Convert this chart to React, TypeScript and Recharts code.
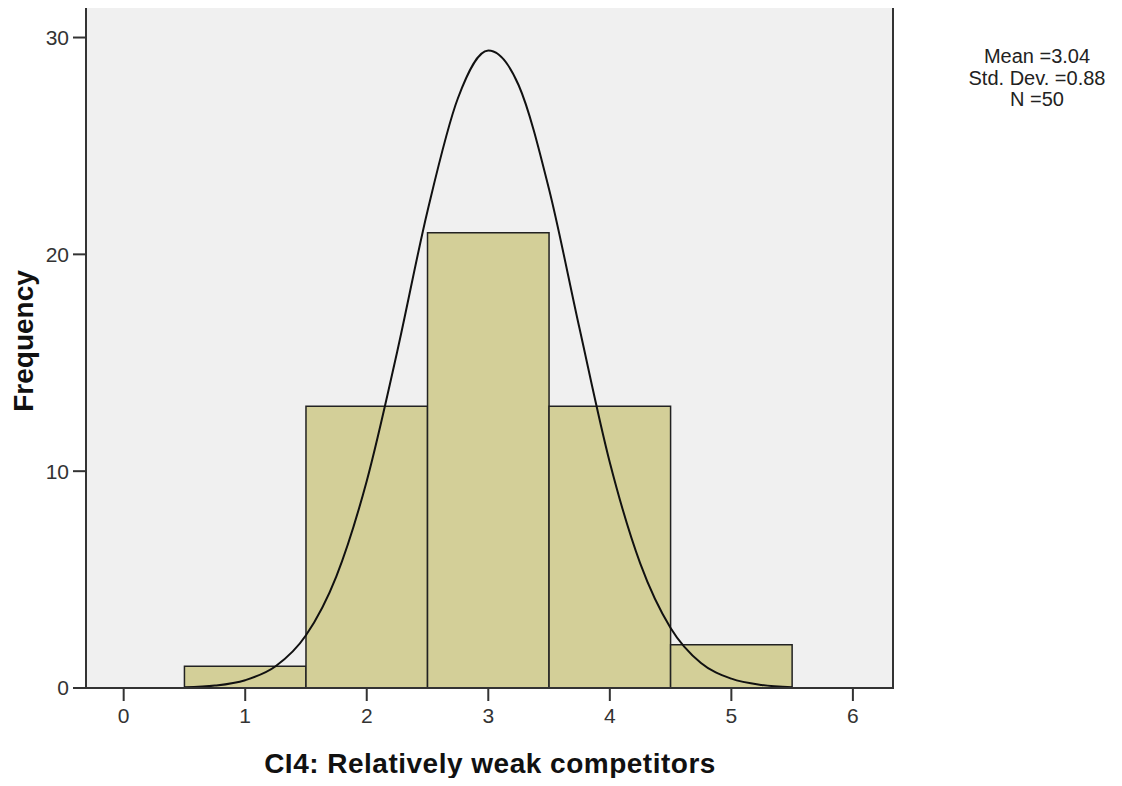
import React from "react";
import { ComposedChart, Line, XAxis, YAxis, ReferenceArea } from "recharts";

// Histogram bins
const binStart = [0.5, 1.5, 2.5, 3.5, 4.5];
const binEnd = [1.5, 2.5, 3.5, 4.5, 5.5];
const binCount = [1, 13, 21, 13, 2];

// Normal curve points
const curveX = [0.5, 0.75, 1.0, 1.25, 1.5, 1.75, 2.0, 2.25, 2.5, 2.75, 3.0, 3.25, 3.5, 3.75, 4.0, 4.25, 4.5, 4.75, 5.0, 5.25, 5.5];
const curveY = [0.03, 0.11, 0.36, 1.0, 2.43, 5.15, 9.55, 15.5, 22.0, 27.2, 29.4, 27.8, 23.0, 16.6, 10.4, 5.75, 2.77, 1.15, 0.43, 0.14, 0.04];

const xTicks = [0, 1, 2, 3, 4, 5, 6];
const yTicks = [0, 10, 20, 30];
const xDomain = [-0.31, 6.33];
const yDomain = [0, 31.5];

const statsLines = ["Mean =3.04", "Std. Dev. =0.88", "N =50"];
const xTitle = "CI4: Relatively weak competitors";
const yTitle = "Frequency";

const curveData = curveX.map((x, i) => ({ x, y: curveY[i] }));

const FONT = "'Liberation Sans', Arial, sans-serif";

export default function App() {
  return (
    <div style={{ position: "relative", width: 1122, height: 786, margin: -8, fontFamily: FONT }}>
      <ComposedChart
        width={1122}
        height={786}
        data={curveData}
        margin={{ top: 5, right: 229, bottom: 0, left: 0 }}
      >
        <XAxis
          type="number"
          dataKey="x"
          domain={xDomain}
          ticks={xTicks}
          allowDataOverflow
          height={98}
          tickSize={13}
          tickMargin={7}
          axisLine={{ stroke: "#333", strokeWidth: 2 }}
          tickLine={{ stroke: "#333", strokeWidth: 2 }}
          tick={{ fill: "#333", fontSize: 21, fontFamily: FONT }}
        />
        <YAxis
          type="number"
          domain={yDomain}
          ticks={yTicks}
          allowDataOverflow
          width={86}
          tickSize={13}
          tickMargin={4}
          axisLine={{ stroke: "#333", strokeWidth: 2 }}
          tickLine={{ stroke: "#333", strokeWidth: 2 }}
          tick={{ fill: "#333", fontSize: 21, fontFamily: FONT }}
        />
        <ReferenceArea
          x1={xDomain[0]}
          x2={xDomain[1]}
          y1={yDomain[0]}
          y2={yDomain[1]}
          fill="#f0f0f0"
          fillOpacity={1}
          stroke="#333"
          strokeWidth={2}
          ifOverflow="visible"
        />
        {binStart.map((s, i) => (
          <ReferenceArea
            key={i}
            x1={s}
            x2={binEnd[i]}
            y1={0}
            y2={binCount[i]}
            fill="#d3cf98"
            fillOpacity={1}
            stroke="#222"
            strokeWidth={1.5}
            ifOverflow="visible"
          />
        ))}
        <Line
          type="monotone"
          dataKey="y"
          stroke="#111"
          strokeWidth={2}
          dot={false}
          activeDot={false}
          isAnimationActive={false}
        />
      </ComposedChart>
      <svg
        width={1122}
        height={786}
        style={{ position: "absolute", left: 0, top: 0, pointerEvents: "none" }}
      >
        <text x={490} y={773} textAnchor="middle" fontFamily={FONT} fontWeight="bold" fontSize={28} letterSpacing={0.5} fill="#111">
          {xTitle}
        </text>
        <text x={0} y={0} transform="translate(33,341) rotate(-90)" textAnchor="middle" fontFamily={FONT} fontWeight="bold" fontSize={28} fill="#111">
          {yTitle}
        </text>
        {statsLines.map((t, i) => (
          <text key={i} x={1037} y={63 + i * 21.5} textAnchor="middle" fontFamily={FONT} fontSize={20} fill="#222">
            {t}
          </text>
        ))}
      </svg>
    </div>
  );
}
